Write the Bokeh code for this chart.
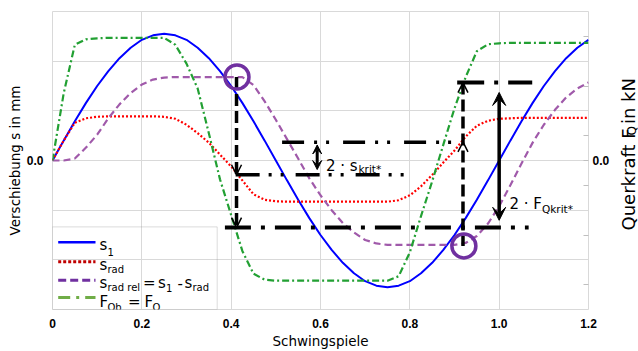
import math
from bokeh.plotting import figure
from bokeh.layouts import row
from bokeh.models import Range1d, LinearAxis, FixedTicker, Label, Arrow, OpenHead, VeeHead, BoxAnnotation
from bokeh.embed import file_html
from bokeh.resources import INLINE

# ---------------- data ----------------
cycles = [0.0, 0.025, 0.05, 0.075, 0.1, 0.125, 0.15, 0.175, 0.2, 0.225, 0.25, 0.275,
          0.3, 0.325, 0.35, 0.375, 0.4, 0.425, 0.45, 0.475, 0.5, 0.525, 0.55, 0.575,
          0.6, 0.625, 0.65, 0.675, 0.7, 0.725, 0.75, 0.775, 0.8, 0.825, 0.85, 0.875,
          0.9, 0.925, 0.95, 0.975, 1.0, 1.025, 1.05, 1.075, 1.1, 1.125, 1.15, 1.175, 1.2]

s1 = [0.00, 0.40, 0.79, 1.16, 1.50, 1.80, 2.06, 2.27, 2.43, 2.52, 2.55, 2.52,
      2.43, 2.27, 2.06, 1.80, 1.50, 1.16, 0.79, 0.40, 0.00, -0.40, -0.79, -1.16,
      -1.50, -1.80, -2.06, -2.27, -2.43, -2.52, -2.55, -2.52, -2.43, -2.27, -2.06, -1.80,
      -1.50, -1.16, -0.79, -0.40, 0.00, 0.40, 0.79, 1.16, 1.50, 1.80, 2.06, 2.27, 2.43]

s_rad = [0.00, 0.40, 0.76, 0.85, 0.88, 0.89, 0.89, 0.89, 0.89, 0.89, 0.88, 0.84,
         0.72, 0.55, 0.36, 0.12, -0.12, -0.40, -0.68, -0.79, -0.82, -0.83, -0.83, -0.83,
         -0.83, -0.83, -0.83, -0.83, -0.83, -0.83, -0.83, -0.80, -0.70, -0.52, -0.29, -0.04,
         0.20, 0.48, 0.70, 0.80, 0.84, 0.85, 0.86, 0.86, 0.86, 0.86, 0.86, 0.86, 0.86]

s_rad_rel = [0.00, 0.00, 0.04, 0.26, 0.52, 0.85, 1.13, 1.36, 1.53, 1.63, 1.67, 1.68,
             1.68, 1.68, 1.68, 1.68, 1.68, 1.68, 1.52, 1.19, 0.82, 0.43, 0.04, -0.36,
             -0.70, -1.00, -1.26, -1.45, -1.60, -1.67, -1.70, -1.70, -1.70, -1.70, -1.70, -1.70,
             -1.70, -1.66, -1.52, -1.27, -0.92, -0.50, -0.06, 0.36, 0.72, 1.02, 1.27, 1.45, 1.57]

f_qb = [0.00, 1.35, 2.33, 2.44, 2.46, 2.47, 2.47, 2.47, 2.47, 2.47, 2.47, 2.33,
        1.95, 1.45, 0.55, -0.38, -1.10, -1.82, -2.28, -2.40, -2.42, -2.42, -2.42, -2.42,
        -2.42, -2.42, -2.42, -2.42, -2.42, -2.42, -2.42, -2.33, -1.85, -1.12, -0.42, 0.32,
        1.05, 1.68, 2.20, 2.34, 2.36, 2.37, 2.37, 2.37, 2.37, 2.37, 2.37, 2.37, 2.37]

x_ticks = [0, 0.2, 0.4, 0.6, 0.8, 1.0, 1.2]
x_tick_labels = ["0", "0.2", "0.4", "0.6", "0.8", "1.0", "1.2"]
s_ticks = [-3, -2, -1, 0, 1, 2, 3]
f_ticks = [-2.5, -1.5, -0.5, 0, 0.5, 1.5, 2.5]
zero_label = "0.0"

# annotation values (axis units)
circle_x = [0.413, 0.921]
circle_y = [1.683, -1.719]
s_krit_hi, s_krit_lo = 0.366, -0.287
fq_krit_hi, fq_krit_lo = 1.568, -1.350
x_cut_1, x_cut_2 = 0.412, 0.919

assert all(len(a) == len(cycles) for a in (s1, s_rad, s_rad_rel, f_qb))

# ---------------- layout helpers (page pixels -> axis units) ----------------
PAGE_H = 351
FRAME_L, PX_X = 52.0, 536.0 / 1.2
ZERO_Y, PX_Y = 162.5, 50.5


def X(px):
    return (px - FRAME_L) / PX_X


def Y(py):
    return (ZERO_Y - py) / PX_Y


MAIN_W = 612
p = figure(width=MAIN_W, height=PAGE_H, x_range=Range1d(0, 1.2), y_range=Range1d(-3, 3),
           output_backend="svg", toolbar_location=None,
           min_border_left=52, min_border_right=MAIN_W - 588, min_border_top=11, min_border_bottom=37)
p.extra_y_ranges = {"fq": Range1d(-3, 3)}
p.background_fill_color = "white"
p.border_fill_color = "white"
p.outline_line_color = "#D9D9D9"

TICK_FONT = "Liberation Sans"
TITLE_FONT = "DejaVu Sans"

xa = p.xaxis[0]
xa.ticker = FixedTicker(ticks=x_ticks)
xa.major_label_overrides = {t: l for t, l in zip(x_ticks, x_tick_labels)}
xa.major_label_text_font = TICK_FONT
xa.major_label_text_font_style = "bold"
xa.major_label_text_font_size = "12px"
xa.major_label_text_color = "black"
xa.major_label_standoff = 3
xa.major_tick_line_color = None
xa.minor_tick_line_color = None
xa.axis_line_color = None
xa.axis_label = "Schwingspiele"
xa.axis_label_text_font = TITLE_FONT
xa.axis_label_text_font_style = "normal"
xa.axis_label_text_font_size = "13.5px"
xa.axis_label_text_color = "black"
xa.axis_label_standoff = 2

ya = p.yaxis[0]
ya.ticker = FixedTicker(ticks=s_ticks)
ya.major_label_overrides = {t: (zero_label if t == 0 else "") for t in s_ticks}
ya.major_label_text_font = TICK_FONT
ya.major_label_text_font_style = "bold"
ya.major_label_text_font_size = "12px"
ya.major_label_text_color = "black"
ya.major_label_standoff = 3
ya.major_tick_line_color = None
ya.minor_tick_line_color = None
ya.axis_line_color = None
ya.axis_label = "Verschiebung s in mm"
ya.axis_label_text_font = TITLE_FONT
ya.axis_label_text_font_style = "normal"
ya.axis_label_text_font_size = "13.5px"
ya.axis_label_text_color = "black"
ya.axis_label_standoff = 1

ra = LinearAxis(y_range_name="fq", ticker=FixedTicker(ticks=f_ticks))
ra.major_label_overrides = {t: (zero_label if t == 0 else "") for t in f_ticks}
ra.major_label_text_font = TICK_FONT
ra.major_label_text_font_style = "bold"
ra.major_label_text_font_size = "12px"
ra.major_label_text_color = "black"
ra.major_label_standoff = 4
ra.major_tick_in = 5
ra.major_tick_out = 0
ra.major_tick_line_color = "#BFBFBF"
ra.minor_tick_line_color = None
ra.axis_line_color = None
p.add_layout(ra, "right")

p.xgrid.grid_line_color = "#D9D9D9"
p.ygrid.grid_line_color = "#D9D9D9"

# ---------------- curves ----------------
p.line(cycles, s1, line_color="#0000FF", line_width=2)
p.line(cycles, s_rad, line_color="#FF0000", line_width=2.2, line_dash="2 2")
p.line(cycles, s_rad_rel, line_color="#A05AAA", line_width=2.2, line_dash="7 4")
p.line(cycles, f_qb, line_color="#22A033", line_width=2.2, line_dash="7 3 2 3", y_range_name="fq")

# ---------------- black construction lines ----------------
p.line([x_cut_1, x_cut_1], [circle_y[0], fq_krit_lo], line_color="black", line_width=3.5, line_dash="12 5")
p.line([x_cut_2, x_cut_2], [fq_krit_hi, circle_y[1]], line_color="black", line_width=3.5, line_dash="12 5")
p.line([0.410, 0.797], [s_krit_lo, s_krit_lo], line_color="black", line_width=3.5, line_dash="24 9 3 9 3 12")
p.line([0.514, 0.906], [s_krit_hi, s_krit_hi], line_color="black", line_width=3.5, line_dash="22 10 3 9 3 14")
p.line([0.386, 1.066], [fq_krit_lo, fq_krit_lo], line_color="black", line_width=4, line_dash="26 10 4 10")
p.line([0.906, 1.074], [fq_krit_hi, fq_krit_hi], line_color="black", line_width=4, line_dash="27 10 4 10")


def open_arrow(x, y_tip, dy):
    p.add_layout(Arrow(x_start=x, y_start=y_tip + dy, x_end=x, y_end=y_tip, line_alpha=0,
                       end=OpenHead(size=10, line_width=1.5, line_color="black")))


open_arrow(x_cut_1, s_krit_lo, 0.3)
open_arrow(x_cut_1, fq_krit_lo, 0.3)
open_arrow(x_cut_2, fq_krit_hi, -0.3)
open_arrow(x_cut_2, s_krit_hi + 0.01, -0.3)

p.add_layout(Arrow(x_start=0.5926, y_start=0.313, x_end=0.5926, y_end=-0.182, line_width=3, line_color="black",
                   start=VeeHead(size=9, fill_color="black", line_color="black"),
                   end=VeeHead(size=9, fill_color="black", line_color="black")))
p.add_layout(Arrow(x_start=1.0, y_start=1.370, x_end=1.0, y_end=-1.204, line_width=3.5, line_color="black",
                   start=VeeHead(size=13, fill_color="black", line_color="black"),
                   end=VeeHead(size=13, fill_color="black", line_color="black")))

p.scatter(circle_x, circle_y, marker="circle", size=24, fill_alpha=0, line_color="#7030A0", line_width=3.5)

# ---------------- texts inside the plot ----------------
MAIN, SUB = 15, 10


def put(fig, text, x, y, size, angle=0.0, align="left", baseline="alphabetic"):
    fig.add_layout(Label(x=x, y=y, text=text, text_font=TITLE_FONT, text_font_size=f"{size}px",
                         text_align=align, text_baseline=baseline, angle=angle, text_color="black"))


def put_px(text, px, py, size):
    put(p, text, X(px), Y(py), size)


# 2 · s_krit*
put_px("2 · s", 325.5, 167.7, MAIN)
put_px("krit*", 358.0, 171.5, 10.5)
# 2 · F_Qkrit*
put_px("2 · F", 509.0, 206.7, MAIN)
put_px("Qkrit*", 541.5, 211.5, 10.5)

# legend box
p.add_layout(BoxAnnotation(left=X(51.7), right=X(216.7), top=Y(230.0), bottom=Y(314.0),
                           fill_alpha=0, line_color="#8C8C8C", line_width=1))
p.line([X(57.7), X(95)], [Y(245.5)] * 2, line_color="#0000FF", line_width=2.5)
p.line([X(57.7), X(95)], [Y(265.5)] * 2, line_color="#C00000", line_width=3, line_dash="3 2")
p.line([X(57.7), X(95)], [Y(284.3)] * 2, line_color="#7030A0", line_width=3, line_dash="8 4")
p.line([X(57.7), X(95)], [Y(301.7)] * 2, line_color="#70AD47", line_width=3, line_dash="12 6 3 6")

put_px("s", 99.0, 248.3, MAIN)
put_px("1", 107.0, 255.7, SUB)
put_px("s", 99.0, 268.3, MAIN)
put_px("rad", 107.0, 273.3, SUB)
put_px("s", 99.0, 286.7, MAIN)
put_px("rad rel", 107.0, 291.7, SUB)
put_px("=", 142.5, 286.7, MAIN)
put_px("s", 157.5, 286.7, MAIN)
put_px("1", 165.5, 291.7, SUB)
put_px("-", 177.0, 286.7, MAIN)
put_px("s", 184.0, 286.7, MAIN)
put_px("rad", 192.0, 291.7, SUB)
put_px("F", 99.0, 306.7, MAIN)
put_px("Qb", 107.0, 311.7, SUB)
put_px("=", 127.5, 306.7, MAIN)
put_px("F", 144.0, 306.7, MAIN)
put_px("Q", 152.0, 311.7, SUB)

# ---------------- right axis title (narrow strip figure, page-pixel coordinates) ----------------
side = figure(width=638 - MAIN_W, height=PAGE_H, x_range=Range1d(MAIN_W, 638), y_range=Range1d(0, PAGE_H),
              output_backend="svg", toolbar_location=None, x_axis_type=None, y_axis_type=None,
              min_border=0, title=None)
side.outline_line_color = None
side.grid.grid_line_color = None
side.background_fill_color = "white"
side.border_fill_color = "white"

W = {'Q': 787, 'u': 634, 'e': 615, 'r': 411, 'k': 579, 'a': 613, 'f': 352, 't': 392,
     ' ': 318, 'F': 575, 'i': 278, 'n': 634, 'N': 748}


def tw(s, size):
    return sum(W[c] for c in s) / 1000.0 * size


RS, RSUB = 18, 12
bx, y0 = 627.5, 249.0          # page pixels: baseline x, text start (bottom) y
pieces = [("Querkraft F", RS, 0.0, 1.5), ("Q", RSUB, 3.5, 1.5), (" in kN", RS, 0.0, 0.0)]
y_cur = y0
for text, size, dx, gap in pieces:
    w = tw(text, size)
    lead = tw(" ", size) if text.startswith(" ") else 0.0
    y_mid = y_cur - lead - (w - lead) / 2.0
    put(side, text.strip(), bx + dx, PAGE_H - y_mid, size, angle=math.pi / 2, align="center")
    y_cur -= w + gap

layout = row(p, side)
open("out.html", "w").write(file_html(layout, INLINE))
